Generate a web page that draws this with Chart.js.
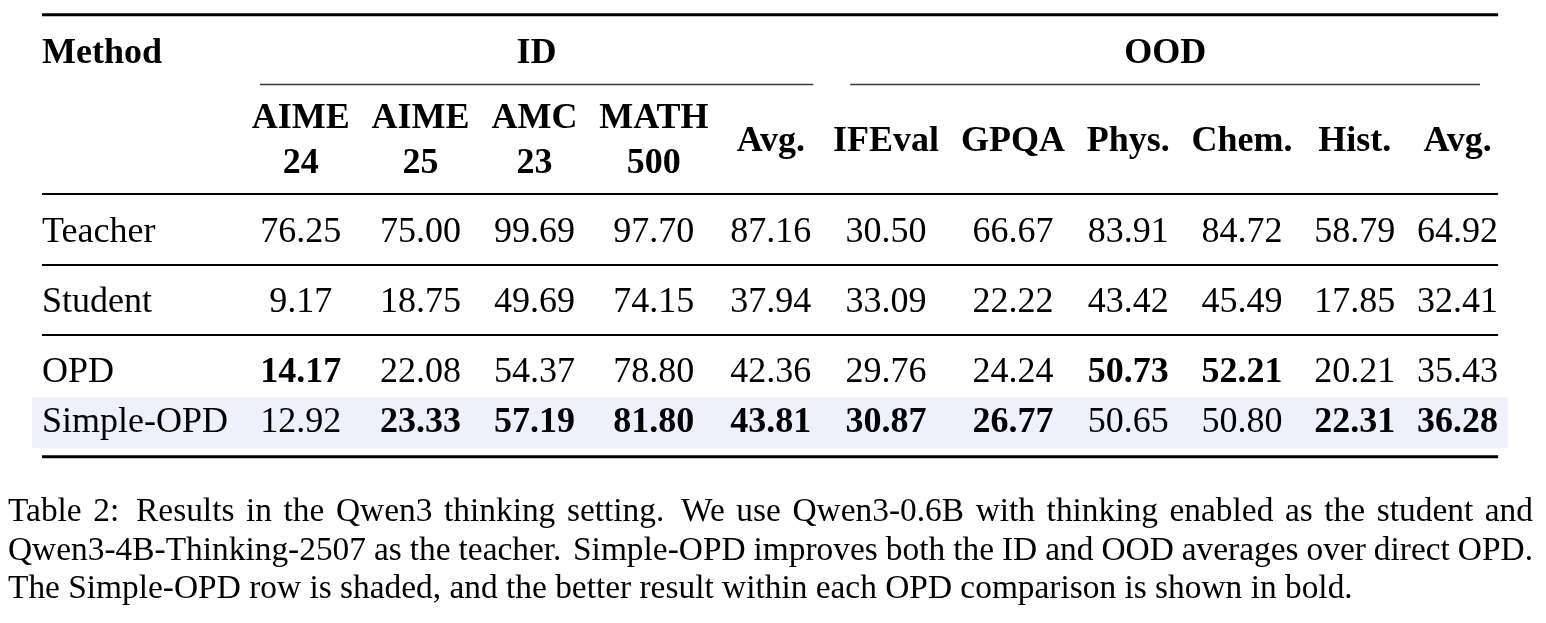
<!DOCTYPE html>
<html>
<head>
<meta charset="utf-8">
<script src="https://cdn.jsdelivr.net/npm/chart.js@4.4.1/dist/chart.umd.min.js"></script>
<style>
  html, body { margin: 0; padding: 0; background: #ffffff; }
  #wrap { width: 1546px; height: 623px; position: relative; }
</style>
</head>
<body>
<div id="wrap"><canvas id="c" width="1546" height="623"></canvas></div>
<script>
// ---------------- DATA ----------------
const groupNames = ['ID', 'OOD'];
const columnGroup = [0, 0, 0, 0, 0, 1, 1, 1, 1, 1, 1];
const columnTop = ['AIME', 'AIME', 'AMC', 'MATH', 'Avg.', 'IFEval', 'GPQA', 'Phys.', 'Chem.', 'Hist.', 'Avg.'];
const columnBottom = ['24', '25', '23', '500', '', '', '', '', '', '', ''];
const methodHeader = 'Method';
const methods = ['Teacher', 'Student', 'OPD', 'Simple-OPD'];

const teacherScores   = [76.25, 75.00, 99.69, 97.70, 87.16, 30.50, 66.67, 83.91, 84.72, 58.79, 64.92];
const studentScores   = [ 9.17, 18.75, 49.69, 74.15, 37.94, 33.09, 22.22, 43.42, 45.49, 17.85, 32.41];
const opdScores       = [14.17, 22.08, 54.37, 78.80, 42.36, 29.76, 24.24, 50.73, 52.21, 20.21, 35.43];
const simpleOpdScores = [12.92, 23.33, 57.19, 81.80, 43.81, 30.87, 26.77, 50.65, 50.80, 22.31, 36.28];

const shadedMethod = 'Simple-OPD';
// rows separated by a rule below them
const ruleBelow = [true, true, false, false];

const captionLines = [
  'Table 2: Results in the Qwen3 thinking setting. We use Qwen3-0.6B with thinking enabled as the student and',
  'Qwen3-4B-Thinking-2507 as the teacher. Simple-OPD improves both the ID and OOD averages over direct OPD.',
  'The Simple-OPD row is shaded, and the better result within each OPD comparison is shown in bold.'
];

// ---------------- STYLE / LAYOUT ----------------
const W = 1546, H = 623;
const FONT = "'Liberation Serif', 'Times New Roman', serif";
const style = {
  fontSize: 36,
  sep: 10.9,
  methodExtra: 2,
  tableLeft: 42,
  shadeExtra: 10,
  shadeColor: '#eef0fc',
  topRuleY: 14.7, heavyRule: 3, midRule: 2, cmidRule: 1.3,
  toGroupBase: 48, toCmid: 21.8, cmidToSub: 43.5, subLine: 45, toMidrule: 21,
  ruleToBase: 48, baseToRule: 23, rowPitch: 50, toBottomRule: 24.7,
  shadeAbove: 34.5, shadeHeight: 50.6,
  cmidTrim: [[19, 9], [28, 18]],
  captionSize: 33.4, captionLeft: 8, captionRight: 1533, captionGap: 64.5, captionLead: 38.6
};

const seriesValues = [teacherScores, studentScores, opdScores, simpleOpdScores];
const fmt = v => v.toFixed(2);
// better result within the OPD comparison is bold
function isBold(r, i) {
  if (methods[r] === 'OPD') return opdScores[i] > simpleOpdScores[i];
  if (methods[r] === 'Simple-OPD') return simpleOpdScores[i] > opdScores[i];
  return false;
}
function font(bold, size) { return (bold ? 'bold ' : '') + size + 'px ' + FONT; }

function build() {
  const mctx = document.createElement('canvas').getContext('2d');
  const measure = (t, b) => { mctx.font = font(b, style.fontSize); return mctx.measureText(t).width; };

  // horizontal layout from content widths (like a LaTeX tabular)
  const methodW = Math.max(measure(methodHeader, true), ...methods.map(m => measure(m, false))) + style.methodExtra;
  const colW = columnTop.map((t, i) => Math.max(
    measure(t, true), measure(columnBottom[i], true),
    ...seriesValues.map((s, r) => measure(fmt(s[i]), isBold(r, i)))));
  const colLeft = [], colCenter = [], colRight = [];
  let x = style.tableLeft + methodW + style.sep;
  colW.forEach((w, i) => {
    const last = i === colW.length - 1;
    colLeft.push(x);
    colCenter.push(x + style.sep + w / 2);
    x = x + style.sep + w + (last ? 0 : style.sep);
    colRight.push(x);
  });
  const tableRight = x;

  // vertical layout
  const groupBase = style.topRuleY + style.toGroupBase;
  const cmidY = groupBase + style.toCmid;
  const sub1 = cmidY + style.cmidToSub;
  const sub2 = sub1 + style.subLine;
  const midY = sub2 + style.toMidrule;
  const rowBase = [], rowRules = [];
  let y = midY + style.ruleToBase;
  methods.forEach((m, r) => {
    rowBase.push(y);
    if (r < methods.length - 1) {
      if (ruleBelow[r]) { rowRules.push(y + style.baseToRule); y = y + style.baseToRule + style.ruleToBase - 1; }
      else { y = y + style.rowPitch; }
    }
  });
  const bottomY = rowBase[rowBase.length - 1] + style.toBottomRule;

  const tablePlugin = {
    id: 'tableDraw',
    beforeDatasetsDraw(chart) {
      const ctx = chart.ctx, xs = chart.scales.x, ys = chart.scales.y;
      const r = methods.indexOf(shadedMethod);
      ctx.save();
      ctx.fillStyle = style.shadeColor;
      const x0 = xs.getPixelForValue(style.tableLeft - style.shadeExtra);
      const x1 = xs.getPixelForValue(tableRight + style.shadeExtra);
      const y0 = ys.getPixelForValue(rowBase[r] - style.shadeAbove);
      const y1 = ys.getPixelForValue(rowBase[r] - style.shadeAbove + style.shadeHeight);
      ctx.fillRect(x0, y0, x1 - x0, y1 - y0);
      ctx.restore();
    },
    afterDatasetsDraw(chart) {
      const ctx = chart.ctx, xs = chart.scales.x, ys = chart.scales.y;
      const px = v => xs.getPixelForValue(v), py = v => ys.getPixelForValue(v);
      ctx.save();
      const hline = (xa, xb, yv, lw, col) => {
        ctx.beginPath(); ctx.strokeStyle = col || '#000'; ctx.lineWidth = lw;
        ctx.moveTo(px(xa), py(yv)); ctx.lineTo(px(xb), py(yv)); ctx.stroke();
      };
      // rules
      hline(style.tableLeft, tableRight, style.topRuleY, style.heavyRule);
      hline(style.tableLeft, tableRight, midY, style.midRule);
      rowRules.forEach(ry => hline(style.tableLeft, tableRight, ry, style.midRule));
      hline(style.tableLeft, tableRight, bottomY, style.heavyRule);

      ctx.fillStyle = '#000';
      ctx.textBaseline = 'alphabetic';
      // header
      ctx.font = font(true, style.fontSize);
      ctx.textAlign = 'left';
      ctx.fillText(methodHeader, px(style.tableLeft), py(groupBase));
      groupNames.forEach((g, gi) => {
        const idx = columnGroup.map((c, i) => c === gi ? i : -1).filter(i => i >= 0);
        const a = colLeft[idx[0]] + style.cmidTrim[gi][0];
        const b = colRight[idx[idx.length - 1]] - style.cmidTrim[gi][1];
        hline(a, b, cmidY, style.cmidRule, '#3a3a3a');
        ctx.textAlign = 'center';
        ctx.fillText(g, px((a + b) / 2), py(groupBase));
      });
      ctx.textAlign = 'center';
      columnTop.forEach((t, i) => {
        if (columnBottom[i]) {
          ctx.fillText(t, px(colCenter[i]), py(sub1));
          ctx.fillText(columnBottom[i], px(colCenter[i]), py(sub2));
        } else {
          ctx.fillText(t, px(colCenter[i]), py((sub1 + sub2) / 2));
        }
      });
      // body
      methods.forEach((m, r) => {
        const meta = chart.getDatasetMeta(r);
        ctx.textAlign = 'left';
        ctx.font = font(false, style.fontSize);
        ctx.fillText(m, px(style.tableLeft), meta.data[0].y);
        ctx.textAlign = 'center';
        seriesValues[r].forEach((v, i) => {
          const el = meta.data[i];
          ctx.font = font(isBold(r, i), style.fontSize);
          ctx.fillText(fmt(v), el.x, el.y);
        });
      });
      // caption
      ctx.font = font(false, style.captionSize);
      ctx.textAlign = 'left';
      captionLines.forEach((line, li) => {
        const yb = py(bottomY + style.captionGap + li * style.captionLead);
        const words = line.split(' ');
        const justify = li < captionLines.length - 1;
        if (!justify) { ctx.fillText(line, px(style.captionLeft), yb); return; }
        const ww = words.map(w => ctx.measureText(w).width);
        const weights = words.slice(0, -1).map(w => /[.:]$/.test(w) ? 1.45 : 1);
        const totalW = ww.reduce((a, b) => a + b, 0);
        const totalWeight = weights.reduce((a, b) => a + b, 0);
        const unit = (style.captionRight - style.captionLeft - totalW) / totalWeight;
        let cx = style.captionLeft;
        words.forEach((w, k) => {
          ctx.fillText(w, px(cx), yb);
          cx += ww[k] + (k < weights.length ? weights[k] * unit : 0);
        });
      });
      ctx.restore();
    }
  };

  new Chart(document.getElementById('c'), {
    type: 'scatter',
    data: {
      datasets: methods.map((m, r) => ({
        label: m,
        data: seriesValues[r].map((v, i) => ({ x: colCenter[i], y: rowBase[r], v })),
        pointRadius: 0, pointHoverRadius: 0, showLine: false
      }))
    },
    options: {
      responsive: false, animation: false, events: [],
      layout: { padding: 0 },
      plugins: { legend: { display: false }, tooltip: { enabled: false }, title: { display: false } },
      scales: {
        x: { type: 'linear', display: false, min: 0, max: W },
        y: { type: 'linear', display: false, min: 0, max: H, reverse: true }
      }
    },
    plugins: [tablePlugin]
  });
}

if (document.fonts && document.fonts.load) {
  Promise.all([
    document.fonts.load(font(false, 36)), document.fonts.load(font(true, 36))
  ]).then(build, build);
} else { build(); }
</script>
</body>
</html>
